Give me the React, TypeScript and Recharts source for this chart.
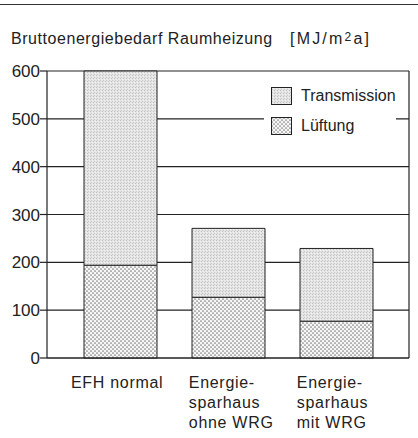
import { BarChart, Bar, XAxis, YAxis, CartesianGrid } from 'recharts'

// Werte (MJ/m²a)
const categories = ['EFH normal', 'Energiesparhaus ohne WRG', 'Energiesparhaus mit WRG']
const categoryLines = [['EFH normal'], ['Energie-', 'sparhaus', 'ohne WRG'], ['Energie-', 'sparhaus', 'mit WRG']]
const lueftung = [194, 127, 77]
const transmission = [406, 144, 152]
const yTicks = [0, 100, 200, 300, 400, 500, 600]
const legendItems = [
  { label: 'Transmission', fill: 'url(#patTrans)' },
  { label: 'Lüftung', fill: 'url(#patLuft)' },
]

const FONT = '"Liberation Sans", Arial, sans-serif'

const data = categories.map((name, i) => ({
  name,
  Lüftung: lueftung[i],
  Transmission: transmission[i],
}))

function CategoryTick({ x, y, payload, index }: any) {
  const lines = categoryLines[index ?? 0] || [payload.value]
  const longest = Math.max(...lines.map((l) => l.length))
  const w = longest * 9.8
  return (
    <text x={x - w / 2} y={y + 22} fill="#222" fontSize={16} fontFamily={FONT} letterSpacing={0.7} textAnchor="start">
      {lines.map((l, i) => (
        <tspan key={i} x={x - w / 2} dy={i === 0 ? 0 : 20}>{l}</tspan>
      ))}
    </text>
  )
}

function LegendBox() {
  return (
    <div style={{ position: 'absolute', left: 264, top: 77, background: '#fff', width: 132, paddingTop: 4, paddingBottom: 4 }}>
      {legendItems.map((it) => (
        <div key={it.label} style={{ display: 'flex', alignItems: 'center', height: 30 }}>
          <svg width={22} height={19} style={{ marginLeft: 7, marginRight: 8 }}>
            <rect x={0.5} y={0.5} width={20} height={17} fill={it.fill} stroke="#222" strokeWidth={1} />
          </svg>
          <span style={{ fontFamily: FONT, fontSize: 16, color: '#222' }}>{it.label}</span>
        </div>
      ))}
    </div>
  )
}

export default function App() {
  return (
    <div style={{ position: 'absolute', left: 0, top: 0, width: 418, height: 438, background: '#fff' }}>
      <svg width={0} height={0} style={{ position: 'absolute' }}>
        <defs>
          <pattern id="patTrans" width={3} height={3} patternUnits="userSpaceOnUse">
            <rect width={3} height={3} fill="#e4e4e4" />
            <rect x={0} y={0} width={1} height={1} fill="#c2c2c2" />
            <rect x={2} y={1} width={1} height={1} fill="#f2f2f2" />
            <rect x={1} y={2} width={1} height={1} fill="#cccccc" />
          </pattern>
          <pattern id="patLuft" width={4} height={4} patternUnits="userSpaceOnUse">
            <rect width={4} height={4} fill="#f6f6f6" />
            <circle cx={1} cy={1} r={0.85} fill="#808080" />
            <circle cx={3} cy={3} r={0.85} fill="#808080" />
          </pattern>
        </defs>
      </svg>
      <div style={{ position: 'absolute', left: 0, top: 4, width: 418, height: 0, borderTop: '1.5px solid #333' }} />
      <div style={{ position: 'absolute', left: 11, top: 30, fontFamily: FONT, fontSize: 16, letterSpacing: 0.55, color: '#222', whiteSpace: 'nowrap' }}>
        Bruttoenergiebedarf Raumheizung
      </div>
      <div style={{ position: 'absolute', left: 290, top: 30, fontFamily: FONT, fontSize: 16, letterSpacing: 2.2, color: '#222', whiteSpace: 'nowrap' }}>
        [MJ/m<span style={{ fontSize: 12, verticalAlign: 'top' }}>2</span>a]
      </div>
      <BarChart width={418} height={438} data={data} margin={{ top: 71, right: 0, left: 0, bottom: 0 }}>
        <CartesianGrid vertical={false} stroke="#222" strokeWidth={1.2} />
        <XAxis
          dataKey="name"
          height={80}
          padding={{ left: 19, right: 19 }}
          tickLine={false}
          axisLine={{ stroke: '#222', strokeWidth: 1.2 }}
          tick={<CategoryTick />}
          interval={0}
        />
        <YAxis
          domain={[0, 600]}
          ticks={yTicks}
          width={47}
          tickSize={7}
          tickMargin={0}
          axisLine={{ stroke: '#222', strokeWidth: 1.2 }}
          tickLine={{ stroke: '#222', strokeWidth: 1.2 }}
          tick={{ fontSize: 17, fill: '#222', fontFamily: FONT }}
        />
        <YAxis
          yAxisId="r"
          orientation="right"
          domain={[0, 600]}
          width={9}
          tick={false}
          tickLine={false}
          axisLine={{ stroke: '#222', strokeWidth: 1.2 }}
        />
        <Bar dataKey="Lüftung" stackId="a" barSize={73} fill="url(#patLuft)" stroke="#222" strokeWidth={1} isAnimationActive={false} />
        <Bar dataKey="Transmission" stackId="a" barSize={73} fill="url(#patTrans)" stroke="#222" strokeWidth={1} isAnimationActive={false} />
      </BarChart>
      <LegendBox />
    </div>
  )
}
